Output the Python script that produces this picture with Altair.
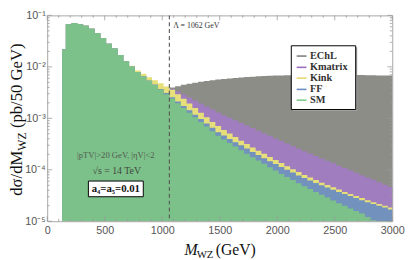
import altair as alt
import pandas as pd

# ---------------- data (log10 of dσ/dM in pb/50 GeV, per bin) ----------------
BIN_EDGES = [130] + list(range(162, 3013, 50))  # 59 edges -> 58 bins

SM_LOG10 = [-1.66, -1.17, -1.15, -1.17, -1.20, -1.26, -1.34, -1.44, -1.55, -1.645,
            -1.77, -1.89, -1.995, -2.10, -2.185, -2.27, -2.355, -2.44, -2.53, -2.615,
            -2.705, -2.80, -2.89, -2.98, -3.07, -3.16, -3.25, -3.34, -3.41, -3.48,
            -3.55, -3.62, -3.69, -3.755, -3.82, -3.885, -3.95, -4.015, -4.08, -4.14,
            -4.20, -4.26, -4.32, -4.375, -4.43, -4.485, -4.54, -4.595, -4.65, -4.70,
            -4.75, -4.80, -4.85, -4.92, -4.98, -5.04, -5.10, -5.16]

FF_LOG10 = [-1.66, -1.17, -1.15, -1.17, -1.20, -1.26, -1.34, -1.44, -1.55, -1.645,
            -1.77, -1.89, -1.995, -2.10, -2.185, -2.265, -2.345, -2.43, -2.51, -2.59,
            -2.675, -2.76, -2.845, -2.93, -3.015, -3.10, -3.185, -3.27, -3.335, -3.40,
            -3.465, -3.525, -3.585, -3.655, -3.715, -3.775, -3.835, -3.89, -3.945, -4.00,
            -4.055, -4.11, -4.16, -4.21, -4.255, -4.30, -4.345, -4.39, -4.43, -4.47,
            -4.51, -4.55, -4.59, -4.63, -4.665, -4.70, -4.735, -4.77]

KINK_LOG10 = [-1.66, -1.17, -1.15, -1.17, -1.20, -1.26, -1.34, -1.44, -1.55, -1.645,
              -1.77, -1.885, -1.98, -2.07, -2.135, -2.20, -2.26, -2.32, -2.38, -2.445,
              -2.53, -2.62, -2.71, -2.80, -2.89, -2.98, -3.07, -3.15, -3.225, -3.295,
              -3.365, -3.435, -3.50, -3.565, -3.63, -3.69, -3.75, -3.81, -3.87, -3.93,
              -3.99, -4.045, -4.10, -4.15, -4.20, -4.25, -4.295, -4.34, -4.385, -4.43,
              -4.47, -4.51, -4.55, -4.59, -4.63, -4.665, -4.70, -4.735]

KMATRIX_LOG10 = [-1.66, -1.17, -1.15, -1.17, -1.20, -1.26, -1.34, -1.44, -1.55, -1.645,
                 -1.77, -1.89, -1.995, -2.10, -2.185, -2.27, -2.355, -2.44, -2.53, -2.43,
                 -2.48, -2.535, -2.595, -2.655, -2.71, -2.77, -2.83, -2.885, -2.94, -2.99,
                 -3.04, -3.09, -3.14, -3.19, -3.24, -3.29, -3.34, -3.39, -3.44, -3.49,
                 -3.54, -3.59, -3.64, -3.685, -3.73, -3.78, -3.825, -3.87, -3.92, -3.965,
                 -4.01, -4.06, -4.105, -4.15, -4.195, -4.24, -4.29, -4.335]

ECHL_LOG10 = [-1.66, -1.17, -1.15, -1.17, -1.20, -1.26, -1.34, -1.44, -1.55, -1.645,
              -1.77, -1.89, -1.995, -2.10, -2.185, -2.27, -2.355, -2.44, -2.53, -2.40,
              -2.375, -2.35, -2.33, -2.31, -2.29, -2.275, -2.26, -2.245, -2.235, -2.225,
              -2.215, -2.205, -2.195, -2.19, -2.185, -2.18, -2.175, -2.17, -2.168, -2.165,
              -2.162, -2.16, -2.16, -2.157, -2.155, -2.153, -2.152, -2.152, -2.152, -2.153,
              -2.155, -2.157, -2.16, -2.162, -2.164, -2.166, -2.168, -2.17]

SERIES = ["EChL", "Kmatrix", "Kink", "FF", "SM"]
SERIES_LOG10 = [ECHL_LOG10, KMATRIX_LOG10, KINK_LOG10, FF_LOG10, SM_LOG10]
FILL_COLORS = ["#8c8d87", "#a07dbf", "#e7df7a", "#7291bd", "#7dc18a"]
LINE_COLORS = ["#7f7f7f", "#9a6cc0", "#e3d867", "#6a8cc4", "#7acb8c"]

LAMBDA = 1062
X_MAJOR = [0, 500, 1000, 1500, 2000, 2500, 3000]
X_MINOR = [v for v in range(100, 3000, 100) if v % 500 != 0]
Y_MAJOR = [1e-5, 1e-4, 1e-3, 1e-2, 1e-1]
Y_MINOR = [m * d for d in [1e-5, 1e-4, 1e-3, 1e-2] for m in range(2, 10)]

# ---------------- layout ----------------
W, H = 352, 210
SERIF = "Liberation Serif"
SANS = "Liberation Sans"
TICKC = "#9a9a9a"

rows = []
for name, vals in zip(SERIES, SERIES_LOG10):
    xs = BIN_EDGES[:-1] + [BIN_EDGES[-1]]
    vs = vals + [vals[-1]]
    for x, lv in zip(xs, vs):
        rows.append({"series": name, "x": x, "v": 10 ** lv})
df = pd.DataFrame(rows)

XSCALE = alt.Scale(domain=[0, 3000], nice=False, zero=False)
YSCALE = alt.Scale(type="log", domain=[1e-5, 1e-1], nice=False)
X_AXIS = alt.Axis(values=X_MAJOR, ticks=False, domain=False, grid=False, title=None,
                  format="d", labelFont=SANS, labelFontSize=11, labelColor="#555555",
                  labelPadding=4, labelFlush=False)
Y_AXIS = alt.Axis(values=Y_MAJOR, ticks=False, domain=False, grid=False, title=None,
                  labelFont=SANS, labelFontSize=11, labelColor="#555555",
                  labelPadding=2,
                  labelExpr="'10' + ['⁻⁵','⁻⁴','⁻³','⁻²','⁻¹'][round(log(datum.value)/LN10)+5]")

layers = []
for name, col in zip(SERIES, FILL_COLORS):
    layers.append(
        alt.Chart(df).transform_filter(alt.datum.series == name)
        .mark_area(interpolate="step-after", color=col, opacity=1, clip=True)
        .encode(x=alt.X("x:Q", scale=XSCALE, axis=X_AXIS),
                y=alt.Y("v:Q", scale=YSCALE, axis=Y_AXIS),
                y2=alt.datum(1e-5))
    )

# Λ dashed line
layers.append(
    alt.Chart(pd.DataFrame({"x": [LAMBDA]}))
    .mark_rule(color="#555555", strokeDash=[4, 3], strokeWidth=1.1)
    .encode(x=alt.X("x:Q", scale=XSCALE, axis=X_AXIS))
)

# inward frame ticks
def xticks(vals, ln):
    d = pd.DataFrame({"x": vals})
    b = alt.Chart(d).mark_rule(color=TICKC, strokeWidth=0.8).encode(
        x=alt.X("x:Q", scale=XSCALE, axis=X_AXIS), y=alt.value(H), y2=alt.value(H - ln))
    t = alt.Chart(d).mark_rule(color=TICKC, strokeWidth=0.8).encode(
        x=alt.X("x:Q", scale=XSCALE, axis=X_AXIS), y=alt.value(0), y2=alt.value(ln))
    return [b, t]

def yticks(vals, ln):
    d = pd.DataFrame({"v": vals})
    l = alt.Chart(d).mark_rule(color=TICKC, strokeWidth=0.8).encode(
        y=alt.Y("v:Q", scale=YSCALE, axis=Y_AXIS), x=alt.value(0), x2=alt.value(ln))
    r = alt.Chart(d).mark_rule(color=TICKC, strokeWidth=0.8).encode(
        y=alt.Y("v:Q", scale=YSCALE, axis=Y_AXIS), x=alt.value(W), x2=alt.value(W - ln))
    return [l, r]

layers += xticks(X_MAJOR, 5) + xticks(X_MINOR, 2.5) + yticks(Y_MAJOR, 5) + yticks(Y_MINOR, 2.5)

one = pd.DataFrame({"_": [0]})

def txt(s, x, y, size, color="#444444", font=SERIF, weight="normal", style="normal",
        align="left", baseline="middle", angle=0):
    return alt.Chart(one).mark_text(text=s, font=font, fontSize=size, color=color,
                                    fontWeight=weight, fontStyle=style, align=align,
                                    baseline=baseline, angle=angle).encode(
        x=alt.value(x), y=alt.value(y))

def box(x1, x2, y1, y2, fill, stroke=None):
    kw = dict(fill=fill)
    if stroke:
        kw.update(stroke=stroke, strokeWidth=1)
    return alt.Chart(one).mark_rect(**kw).encode(
        x=alt.value(x1), x2=alt.value(x2), y=alt.value(y1), y2=alt.value(y2))

# annotations
layers.append(txt("Λ = 1062 GeV", 128.5, 11, 8, color="#333333"))
layers.append(txt("|pTV|>20 GeV, |ηV|<2", 70, 142, 8.8, color="#505a50", align="center"))
layers.append(txt("√s = 14 TeV", 71, 159, 10, color="#404840", align="center"))
layers.append(box(42, 98, 169, 185, "white", "black"))
layers.append(txt("a₄=a₅=0.01", 70, 177.5, 11, color="#111111", weight="bold", align="center"))

# legend
layers.append(box(250.5, 316.2, 32.5, 97.5, "#a0a0a0"))
layers.append(box(249, 314.7, 31, 96, "white", "black"))
LEG_Y = [41.5, 53, 64, 75.5, 86.5]
for name, col, ly in zip(SERIES, LINE_COLORS, LEG_Y):
    layers.append(alt.Chart(one).mark_rule(color=col, strokeWidth=1.6).encode(
        x=alt.value(254.5), x2=alt.value(264.5), y=alt.value(ly)))
    layers.append(txt(name, 268, ly, 10.5, color="#333333", weight="bold"))

# axis titles (rich text)
layers.append(txt("M", 140, 244, 16, color="#111111", style="italic", baseline="alphabetic"))
layers.append(txt("WZ", 152.5, 247, 11, color="#111111", baseline="alphabetic"))
layers.append(txt("(GeV)", 172, 244, 16, color="#111111", baseline="alphabetic"))

YT_X = -25.5
layers.append(txt("dσ/dM", YT_X, 184, 17, color="#111111", baseline="alphabetic", angle=270))
layers.append(txt("WZ", YT_X + 3.5, 138, 12, color="#111111", baseline="alphabetic", angle=270))
layers.append(txt("(pb/50 GeV)", YT_X, 115, 17, color="#111111", baseline="alphabetic", angle=270))

chart = alt.layer(*layers).properties(
    width=W, height=H,
    autosize=alt.AutoSizeParams(type="none"),
    padding={"left": 40, "top": 5, "right": 13, "bottom": 37},
).configure_view(stroke="#a6a6a6", strokeWidth=1)

chart.save("out.html", embed_options={"renderer": "svg", "actions": False})
